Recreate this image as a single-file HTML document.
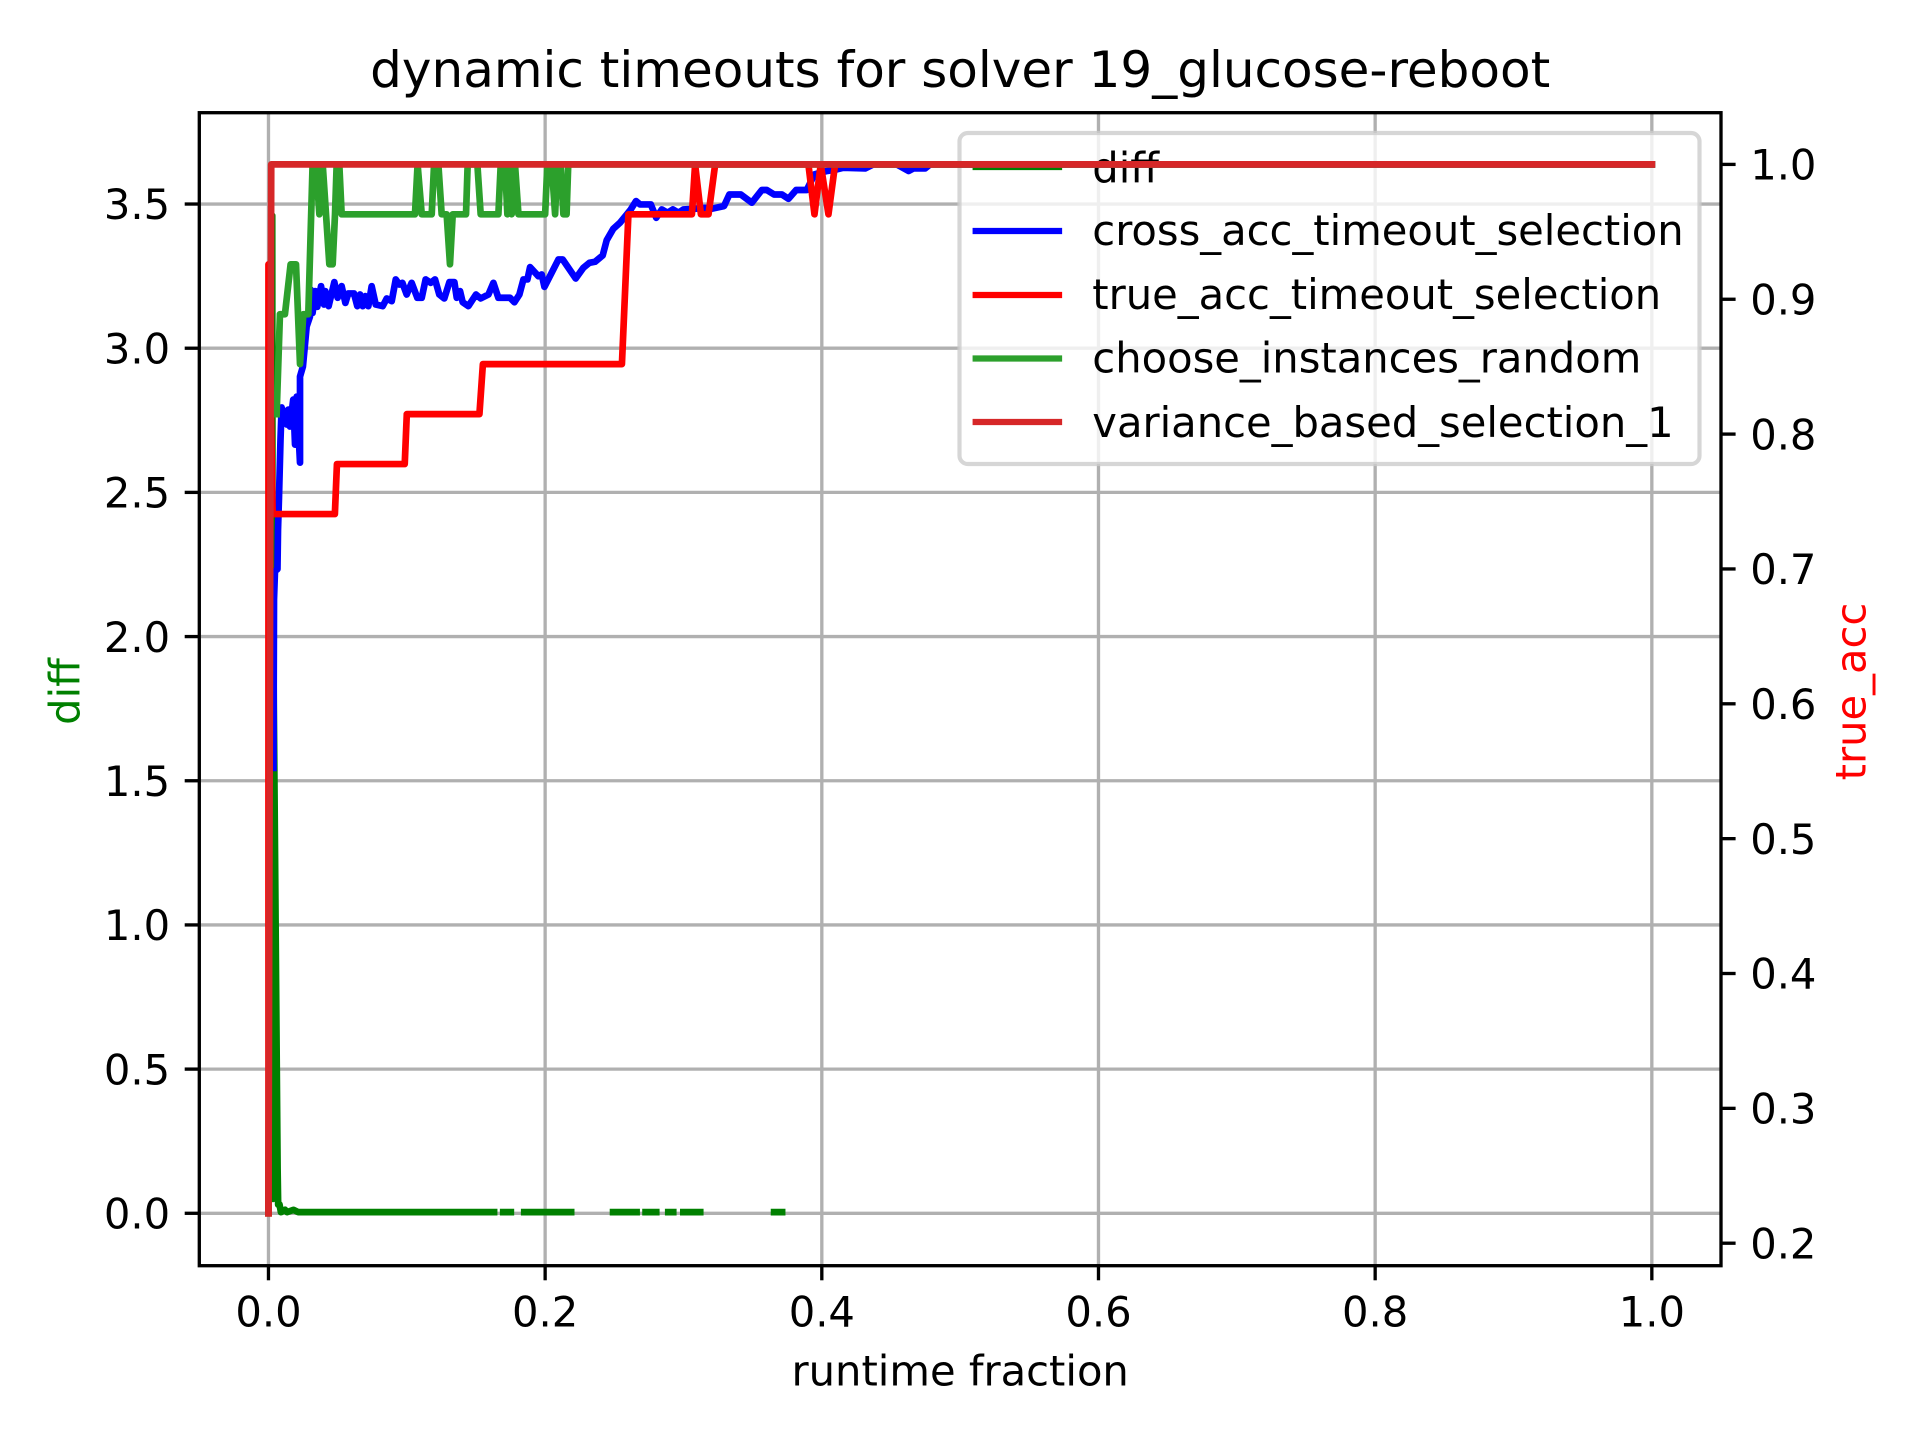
<!DOCTYPE html>
<html lang="en">
<head>
<meta charset="utf-8">
<title>dynamic timeouts for solver 19_glucose-reboot</title>
<style>
html,body{margin:0;padding:0;background:#fff;}
svg{display:block;}
text{font-family:"DejaVu Sans","Liberation Sans",sans-serif;fill:#000;}
</style>
</head>
<body>
<svg id="chart" xmlns="http://www.w3.org/2000/svg" width="1920" height="1440" viewBox="0 0 1920 1440">
  <rect width="1920" height="1440" fill="#fff"/>
  <g id="grid"></g>
  <g id="left-series"></g>
  <g id="legend">
    <rect x="959.5" y="133" width="740" height="331" rx="8.3" ry="8.3" fill="#fff" fill-opacity="0.8" stroke="#ccc" stroke-opacity="0.8" stroke-width="4.17"/>
    <line x1="975.7" x2="1059" y1="167" y2="167" stroke="#008000" stroke-width="6.25" stroke-linecap="square"/>
    <text x="1092.3" y="182.5" font-size="41.67">diff</text>
    <line x1="975.7" x2="1059" y1="231" y2="231" stroke="#0000ff" stroke-width="6.25" stroke-linecap="square"/>
    <text x="1092.3" y="245" font-size="41.67">cross_acc_timeout_selection</text>
    <line x1="975.7" x2="1059" y1="295" y2="295" stroke="#ff0000" stroke-width="6.25" stroke-linecap="square"/>
    <text x="1092.3" y="309" font-size="41.67">true_acc_timeout_selection</text>
    <line x1="975.7" x2="1059" y1="358.5" y2="358.5" stroke="#2ca02c" stroke-width="6.25" stroke-linecap="square"/>
    <text x="1092.3" y="372.5" font-size="41.67">choose_instances_random</text>
    <line x1="975.7" x2="1059" y1="422" y2="422" stroke="#d62728" stroke-width="6.25" stroke-linecap="square"/>
    <text x="1092.3" y="437" font-size="41.67">variance_based_selection_1</text>
  </g>
  <g id="right-series"></g>
  <g id="axes"></g>
  <text x="960.2" y="87" font-size="50" text-anchor="middle">dynamic timeouts for solver 19_glucose-reboot</text>
  <text x="960.2" y="1385.5" font-size="41.67" text-anchor="middle">runtime fraction</text>
  <text transform="translate(79.3 691.5) rotate(-90)" font-size="41.67" text-anchor="middle" style="fill:#008000">diff</text>
  <text transform="translate(1865.7 691.5) rotate(-90)" font-size="41.67" text-anchor="middle" style="fill:#ff0000">true_acc</text>
</svg>
<script>
const xTicks = [0, 0.2, 0.4, 0.6, 0.8, 1.0];
const xTickLabels = ['0.0', '0.2', '0.4', '0.6', '0.8', '1.0'];
const leftTicks = [0, 0.5, 1, 1.5, 2, 2.5, 3, 3.5];
const leftTickLabels = ['0.0', '0.5', '1.0', '1.5', '2.0', '2.5', '3.0', '3.5'];
const rightTicks = [0.2, 0.3, 0.4, 0.5, 0.6, 0.7, 0.8, 0.9, 1.0];
const rightTickLabels = ['0.2', '0.3', '0.4', '0.5', '0.6', '0.7', '0.8', '0.9', '1.0'];

const diffFraction = [0, .0027, .0033, .0037, .0066, .0070, .0080, .0090, .0120, .0135, .0180, .0215, .1631, null, .1697, .1752, null, .1849, .2188, null, .2491, .2661, null, .2726, .2803, null, .2890, .2926, null, .2999, .3121, null, .3655, .3713];
const diffValues = [0, 3.46, .05, 1.853, .154, .03, .03, .004, .012, .004, .012, .004, .004, null, .004, .004, null, .004, .004, null, .004, .004, null, .004, .004, null, .004, .004, null, .004, .004, null, .004, .004];

const crossFraction = [.0036, .0040, .0047, .0065, .0069, .0076, .0087, .0095, .0132, .0143, .0155, .0179, .0192, .0204, .0228, .0228, .0249, .0276, .0300, .0305, .0319, .0339, .0353, .0380, .0401, .0411, .0435, .0476, .0500, .0529, .0556, .0577, .0618, .0642, .0662, .0681, .0700, .0722, .0746, .0775, .0826, .0855, .0891, .0920, .0946, .0968, .0999, .1035, .1076, .1108, .1136, .1173, .1204, .1235, .1271, .1308, .1344, .1361, .1385, .1404, .1445, .1500, .1534, .1590, .1626, .1662, .1746, .1778, .1814, .1843, .1872, .1891, .1951, .1975, .1995, .2096, .2127, .2221, .2276, .2320, .2361, .2416, .2445, .2493, .2541, .2590, .2619, .2657, .2686, .2764, .2803, .2843, .2884, .2923, .2964, .3000, .3084, .3156, .3204, .3293, .3332, .3414, .3494, .3566, .3602, .3655, .3711, .3759, .3814, .3891, .3947, .4036, .4108, .4156, .4313, .4373, .4542, .4627, .4663, .4747, .4783, 1];
const crossValues = [.5525, .6775, .6984, .6998, .7291, .7528, .7959, .8197, .8071, .8182, .8056, .8256, .7922, .8278, .7788, .8427, .8501, .8798, .8872, .9072, .8899, .9060, .8944, .9097, .8961, .9060, .8949, .9127, .9011, .9097, .8973, .9043, .9043, .8949, .9035, .8949, .9023, .8949, .9097, .8961, .8949, .9006, .8986, .9147, .9109, .9122, .9035, .9122, .9011, .9011, .9147, .9122, .9147, .9035, .9006, .9127, .9127, .9011, .9060, .8978, .8949, .9035, .9006, .9035, .9122, .9011, .9011, .8978, .9035, .9147, .9147, .9238, .9171, .9184, .9092, .9295, .9295, .9154, .9233, .9270, .9278, .9325, .9438, .9523, .9567, .9629, .9666, .9728, .9703, .9703, .9604, .9666, .9641, .9666, .9641, .9666, .9671, .9678, .9671, .9691, .9777, .9777, .9716, .9810, .9810, .9777, .9777, .9745, .9810, .9810, .9926, .9951, .9963, .9975, .9970, 1, 1, .9951, .9970, .9970, 1, 1];

const trueFraction = [0, 0, .0030, .0480, .0495, .0985, .1000, .1525, .1550, .2555, .2602, .3061, .3084, .3126, .3181, .3229, .3903, .3947, .3992, .4048, .4096, 1];
const trueValues = [.2222, .9259, .7407, .7407, .7778, .7778, .8148, .8148, .8519, .8519, .9630, .9630, 1, .9630, .9630, 1, 1, .9630, 1, .9630, 1, 1];

const randomFraction = [.0059, .0083, .0119, .0160, .0199, .0228, .0252, .0288, .0319, .0343, .0368, .0392, .0440, .0464, .0481, .0493, .0512, .0529, .1059, .1078, .1108, .1180, .1197, .1228, .1252, .1288, .1312, .1332, .1428, .1440, .1510, .1534, .1662, .1679, .1710, .1727, .1741, .1758, .1782, .1807, .2000, .2016, .2047, .2072, .2088, .2112, .2132, .2155, .2167, 1];
const randomValues = [.8148, .8889, .8889, .9259, .9259, .8519, .8889, .8889, 1, 1, .9630, 1, .9259, .9259, .9630, 1, 1, .9630, .9630, 1, .9630, .9630, 1, 1, .9630, .9630, .9259, .9630, .9630, 1, 1, .9630, .9630, 1, 1, .9630, 1, .9630, 1, .9630, .9630, 1, 1, .9630, 1, 1, .9630, .9630, 1, 1];

const varianceFraction = [0, .0020, 1];
const varianceValues = [.2222, 1, 1];

const SVG_NS = 'http://www.w3.org/2000/svg';
const plotLeft = 199.3, plotRight = 1721, plotTop = 112.7, plotBottom = 1265.7;

function xScale(v) {
  return plotLeft + (plotRight - plotLeft) * (v + 0.05) / 1.1;
}
function leftScale(v) {
  const min = 0, max = 3.635, m = (max - min) * 0.05;
  return plotBottom - (plotBottom - plotTop) * (v - (min - m)) / (max - min + 2 * m);
}
function rightScale(v) {
  return 164.4 + (1 - v) * 1348.5;
}
function makeLine(parent, x1, y1, x2, y2, color, width) {
  const el = document.createElementNS(SVG_NS, 'line');
  el.setAttribute('x1', x1);
  el.setAttribute('y1', y1);
  el.setAttribute('x2', x2);
  el.setAttribute('y2', y2);
  el.setAttribute('stroke', color);
  el.setAttribute('stroke-width', width);
  parent.appendChild(el);
  return el;
}
function makeLabel(parent, x, y, anchor, content) {
  const el = document.createElementNS(SVG_NS, 'text');
  el.setAttribute('x', x);
  el.setAttribute('y', y);
  el.setAttribute('font-size', '41.67');
  el.setAttribute('text-anchor', anchor);
  el.textContent = content;
  parent.appendChild(el);
  return el;
}
function makeSeries(parent, xs, ys, yScale, color) {
  let d = '';
  let pen = false;
  xs.forEach(function (x, i) {
    if (x === null || ys[i] === null) { pen = false; return; }
    d += (pen ? 'L' : 'M') + xScale(x).toFixed(2) + ' ' + yScale(ys[i]).toFixed(2);
    pen = true;
  });
  const el = document.createElementNS(SVG_NS, 'path');
  el.setAttribute('d', d);
  el.setAttribute('fill', 'none');
  el.setAttribute('stroke', color);
  el.setAttribute('stroke-width', '6.7');
  el.setAttribute('stroke-linejoin', 'round');
  el.setAttribute('stroke-linecap', 'square');
  parent.appendChild(el);
  return el;
}

const gridLayer = document.getElementById('grid');
const leftLayer = document.getElementById('left-series');
const rightLayer = document.getElementById('right-series');
const axesLayer = document.getElementById('axes');

xTicks.forEach(function (t) {
  const g = makeLine(gridLayer, xScale(t), plotTop, xScale(t), plotBottom, '#b0b0b0', 3.33);
  
  
});
leftTicks.forEach(function (t) {
  const g = makeLine(gridLayer, plotLeft, leftScale(t), plotRight, leftScale(t), '#b0b0b0', 3.33);
  
  
});

const diffLine = makeSeries(leftLayer, diffFraction, diffValues, leftScale, '#008000');



const crossLine = makeSeries(rightLayer, crossFraction, crossValues, rightScale, '#0000ff');



const trueLine = makeSeries(rightLayer, trueFraction, trueValues, rightScale, '#ff0000');



const randomLine = makeSeries(rightLayer, randomFraction, randomValues, rightScale, '#2ca02c');



const varianceLine = makeSeries(rightLayer, varianceFraction, varianceValues, rightScale, '#d62728');



const frame = document.createElementNS(SVG_NS, 'rect');
frame.setAttribute('x', plotLeft);
frame.setAttribute('y', plotTop);
frame.setAttribute('width', plotRight - plotLeft);
frame.setAttribute('height', plotBottom - plotTop);
frame.setAttribute('fill', 'none');
frame.setAttribute('stroke', '#000');
frame.setAttribute('stroke-width', '3.33');
frame.setAttribute('stroke-linejoin', 'miter');


axesLayer.appendChild(frame);

xTicks.forEach(function (t, i) {
  const tick = makeLine(axesLayer, xScale(t), plotBottom, xScale(t), plotBottom + 14.6, '#000', 3.33);
  
  
  const label = makeLabel(axesLayer, xScale(t), 1326.3, 'middle', xTickLabels[i]);
  
  
});
leftTicks.forEach(function (t, i) {
  const tick = makeLine(axesLayer, plotLeft - 14.6, leftScale(t), plotLeft, leftScale(t), '#000', 3.33);
  
  
  const label = makeLabel(axesLayer, plotLeft - 29.2, leftScale(t) + 15.2, 'end', leftTickLabels[i]);
  
  
});
rightTicks.forEach(function (t, i) {
  const tick = makeLine(axesLayer, plotRight, rightScale(t), plotRight + 14.6, rightScale(t), '#000', 3.33);
  
  
  const label = makeLabel(axesLayer, plotRight + 29.2, rightScale(t) + 15.2, 'start', rightTickLabels[i]);
  
  
});
</script>
</body>
</html>
